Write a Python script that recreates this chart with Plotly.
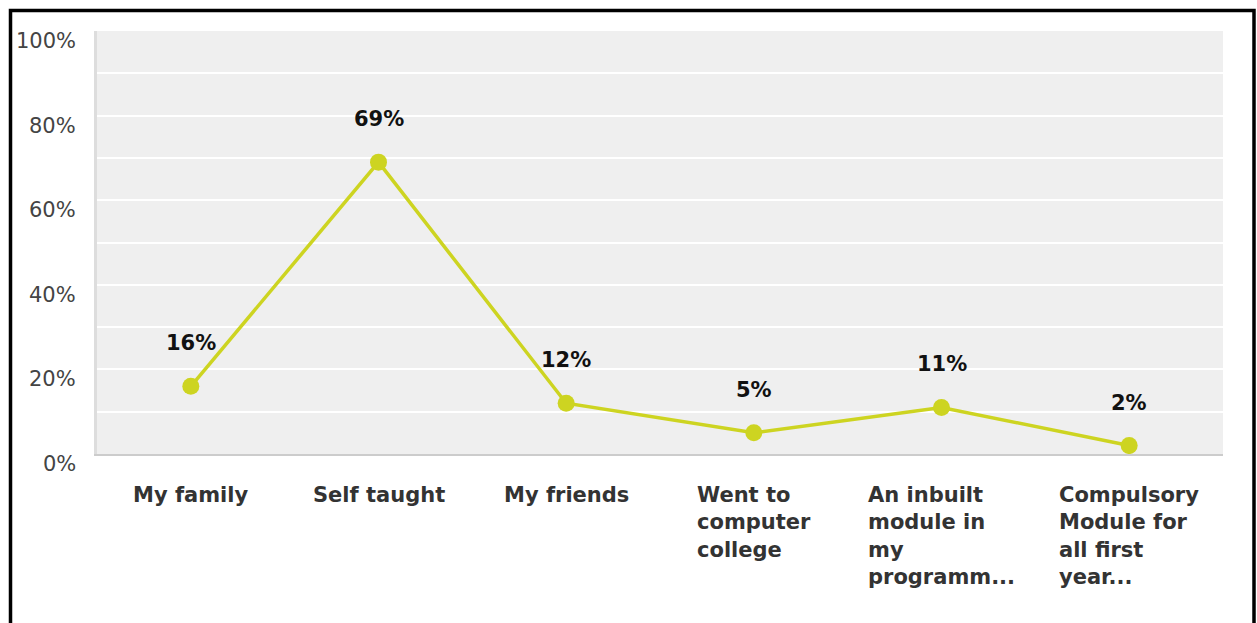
import plotly.graph_objects as go

# Survey responses: where respondents learned their skills
categories = [
    "My family",
    "Self taught",
    "My friends",
    "Went to<br>computer<br>college",
    "An inbuilt<br>module in<br>my<br>programm...",
    "Compulsory<br>Module for<br>all first<br>year...",
]
values = [16, 69, 12, 5, 11, 2]
y_ticks = [0, 20, 40, 60, 80, 100]
y_tick_labels = ["0%", "20%", "40%", "60%", "80%", "100%"]

W, H = 1257, 623
ML, MR, MT, MB = 97, 34, 31, 169
PW, PH = W - ML - MR, H - MT - MB

LINE_COLOR = "rgb(205,212,33)"
FONT = "DejaVu Sans, Arial, sans-serif"

x_idx = list(range(len(categories)))

fig = go.Figure()
fig.add_trace(go.Scatter(
    x=x_idx, y=values, mode="lines+markers",
    line=dict(color=LINE_COLOR, width=3.5),
    marker=dict(color=LINE_COLOR, size=17),
    hoverinfo="skip", showlegend=False,
))

annotations = []
# value labels above each point
for xi, v in zip(x_idx, values):
    annotations.append(dict(
        x=xi, y=v, xref="x", yref="y", text=f"<b>{v}%</b>",
        showarrow=False, yshift=43, xanchor="center", yanchor="middle",
        font=dict(family=FONT, size=21, color="#111111"),
    ))
# category labels under the axis, left-aligned block
for xi, c in zip(x_idx, categories):
    annotations.append(dict(
        x=xi, y=0, xref="x", yref="paper", text=f"<b>{c}</b>",
        showarrow=False, yshift=-27, xanchor="center", yanchor="top",
        align="left",
        font=dict(family=FONT, size=21, color="#333333"),
    ))
# y-axis labels
for t, lab in zip(y_ticks, y_tick_labels):
    annotations.append(dict(
        x=0, y=t, xref="paper", yref="y", text=lab,
        showarrow=False, xshift=-19, yshift=-10, xanchor="right", yanchor="middle",
        font=dict(family=FONT, size=21, color="#444444"),
    ))

fig.update_layout(
    width=W, height=H,
    margin=dict(l=ML, r=MR, t=MT, b=MB),
    paper_bgcolor="white",
    plot_bgcolor="#efefef",
    annotations=annotations,
    shapes=[dict(
        type="rect", xref="paper", yref="paper",
        x0=(10.5 - ML) / PW, x1=(1254 - ML) / PW,
        y0=(MT + PH - 720) / PH, y1=(MT + PH - 10.5) / PH,
        line=dict(color="black", width=3.5), fillcolor="rgba(0,0,0,0)",
        layer="above",
    )],
    xaxis=dict(
        range=[-0.5, len(categories) - 0.5],
        showticklabels=False, showgrid=False, zeroline=False,
        showline=True, linecolor="#cccccc", linewidth=2, ticks="",
    ),
    yaxis=dict(
        range=[0, 100], tickvals=list(range(0, 101, 10)),
        showticklabels=False, showgrid=True, gridcolor="white", gridwidth=2,
        zeroline=False, showline=True, linecolor="#dddddd", linewidth=3, ticks="",
    ),
)

fig.write_html("out.html")
